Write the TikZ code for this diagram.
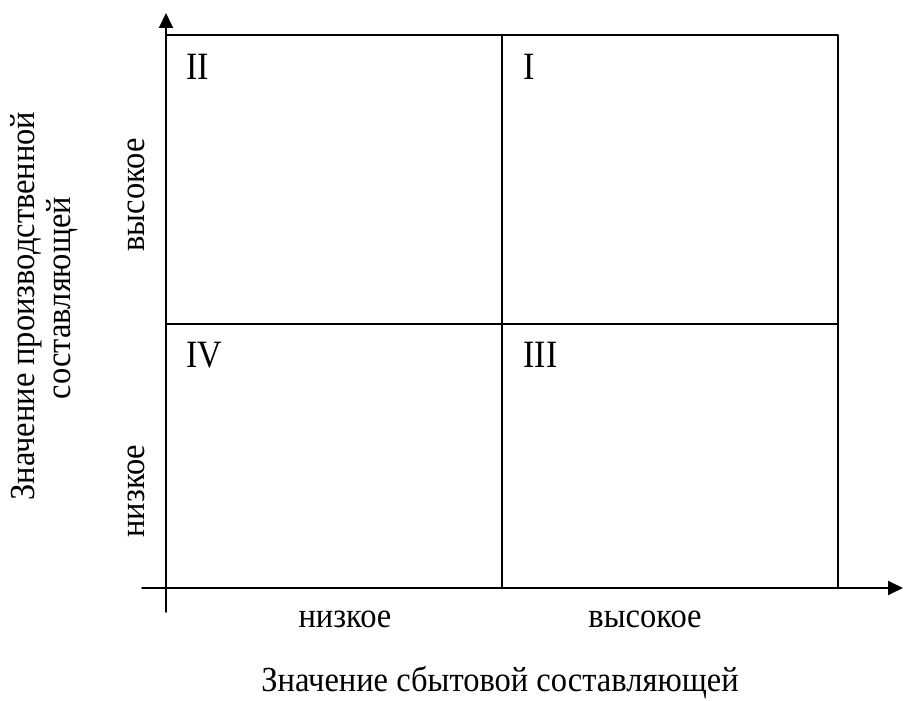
\documentclass[tikz,border=0pt]{standalone}
\usepackage{fontspec}
\setmainfont{Liberation Serif}[FakeStretch=0.925]
\newfontfamily\numfont{Liberation Serif}[FakeStretch=0.88]
\usetikzlibrary{arrows.meta}

\begin{document}
\begin{tikzpicture}[line cap=round,line join=round,>={Triangle[length=3mm,width=2.8mm]},x=0.2cm,y=0.2cm,
  lbl/.style={font=\fontsize{20pt}{24pt}\selectfont,inner sep=0pt},
  quad/.style={font=\numfont\fontsize{22pt}{26pt}\selectfont,inner sep=0pt,anchor=base west}]
\useasboundingbox (0,0) rectangle (90.4,70.1);
%axes
\coordinate (ybot) at (16.6,8.9);
\coordinate (ytip) at (16.6,68.8);
\coordinate (xleft) at (14.2,11.3);
\coordinate (xtip) at (90.3,11.3);
%matrix frame
\coordinate (tl) at (16.6,66.6);
\coordinate (tm) at (50.2,66.6);
\coordinate (tr) at (83.8,66.6);
\coordinate (bm) at (50.2,11.3);
\coordinate (br) at (83.8,11.3);
\coordinate (ml) at (16.6,37.7);
\coordinate (mr) at (83.8,37.7);
\draw [line width=1.1pt,->] (ybot) -- (ytip);
\draw [line width=1.1pt,->] (xleft) -- (xtip);
\draw [line width=1.1pt] (tl) -- (tr) -- (br);
\draw [line width=1.1pt] (tm) -- (bm);
\draw [line width=1.1pt] (ml) -- (mr);
%quadrants
\node[quad] (q2) at (18.6,62.1) {II};
\node[quad] (q1) at (52.3,62.1) {I};
\node[quad] (q4) at (18.6,33.3) {IV};
\node[quad] (q3) at (52.3,33.3) {III};
%x labels
\node[lbl,anchor=base] (xlow) at (34.5,7.3) {низкое};
\node[lbl,anchor=base] (xhigh) at (64.5,7.3) {высокое};
\node[lbl,anchor=base] (xtitle) at (50.0,0.9) {Значение сбытовой составляющей};
%y labels
\node[lbl,anchor=base,rotate=90] (yhigh) at (14.5,50.6) {высокое};
\node[lbl,anchor=base,rotate=90] (ylow) at (14.5,21.0) {низкое};
\node[lbl,anchor=base,rotate=90] (ytitlea) at (3.5,39.5) {Значение производственной};
\node[lbl,anchor=base,rotate=90] (ytitleb) at (7.0,40.3) {составляющей};
\end{tikzpicture}
\end{document}
